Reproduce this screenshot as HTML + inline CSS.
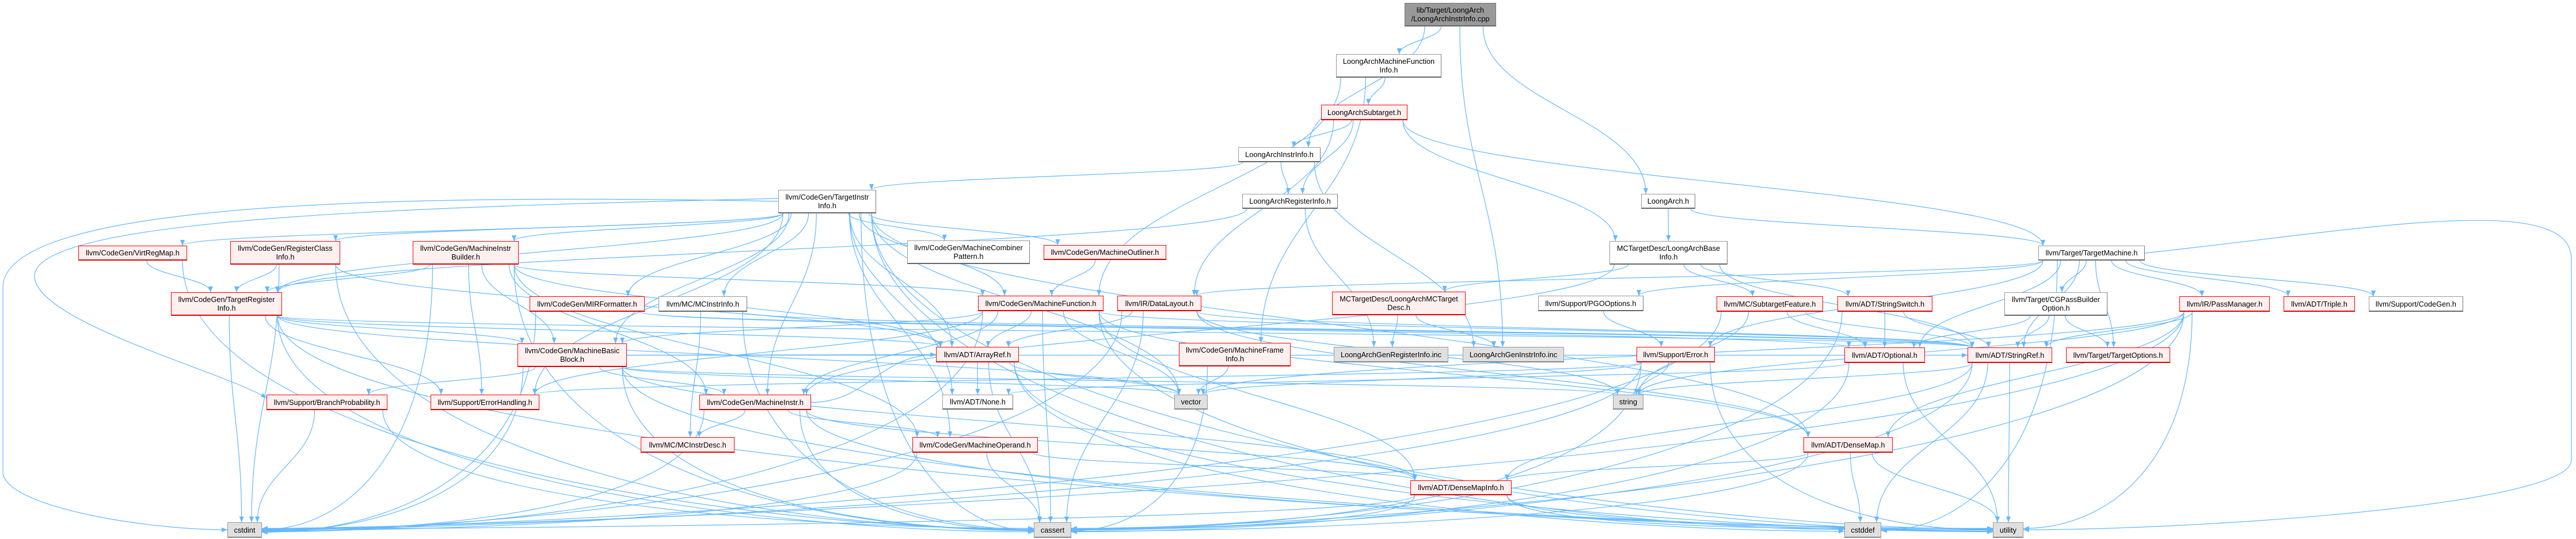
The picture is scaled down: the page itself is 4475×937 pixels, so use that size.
<!DOCTYPE html>
<html><head><meta charset="utf-8">
<style>
html,body{margin:0;padding:0;background:#fff;}
#c{position:relative;width:4475px;height:937px;overflow:hidden;background:#fff;}
svg{position:absolute;left:0;top:0;}
.n{position:absolute;box-sizing:border-box;display:flex;align-items:center;justify-content:center;text-align:center;font-family:"Liberation Sans",sans-serif;font-size:12.8px;line-height:15px;color:#000;white-space:nowrap;}
.r{background:#fff0f0;border:1.6px solid #ff0000;border-bottom:2px solid #e00000;}
.w{background:#fff;border:1.4px solid #999;border-bottom:2.4px solid #666;border-right:1.8px solid #777;}
.g{background:#e0e0e0;border:1.4px solid #999;border-bottom:2px solid #888;}
.k{background:#999;border:1.4px solid #777;border-bottom:2.4px solid #666;}
</style></head><body>
<div id="c">
<svg id="s" width="4475" height="937" viewBox="0 0 4475 937">
<defs><marker id="a" markerUnits="userSpaceOnUse" markerWidth="11" markerHeight="8" refX="10" refY="4" orient="auto"><path d="M0,0 L10,4 L0,8 z" fill="#63b8ff"/></marker></defs>
<g fill="none" stroke="#63b8ff" stroke-width="1.2">
<path d="M1352,350 C600,335 5,360 5,500 L5,820 C5,880 250,921 395,921" marker-end="url(#a)"/>
<path d="M1352,345 C700,360 60,380 60,480 C60,560 400,650 463,692" marker-end="url(#a)"/>
<path d="M3726,440 C4100,400 4467,330 4467,450 L4467,800 C4467,880 3800,921 3515,921" marker-end="url(#a)"/>
</g>
<g id="e" fill="none" stroke="#63b8ff" stroke-width="1.2"></g>
</svg>

<div class="n k" style="left:2440px;top:5px;width:159px;height:41px">lib/Target/LoongArch<br>/LoongArchInstrInfo.cpp</div>
<div class="n w" style="left:2321px;top:94px;width:183px;height:41px">LoongArchMachineFunction<br>Info.h</div>
<div class="n r" style="left:2295px;top:182px;width:150px;height:27px">LoongArchSubtarget.h</div>
<div class="n w" style="left:2151px;top:256px;width:143px;height:26px">LoongArchInstrInfo.h</div>
<div class="n w" style="left:2158px;top:337px;width:166px;height:26px">LoongArchRegisterInfo.h</div>
<div class="n w" style="left:2851px;top:337px;width:94px;height:26px">LoongArch.h</div>
<div class="n w" style="left:1352px;top:330px;width:170px;height:41px">llvm/CodeGen/TargetInstr<br>Info.h</div>
<div class="n w" style="left:1576px;top:418px;width:213px;height:41px">llvm/CodeGen/MachineCombiner<br>Pattern.h</div>
<div class="n r" style="left:1813px;top:426px;width:213px;height:26px">llvm/CodeGen/MachineOutliner.h</div>
<div class="n w" style="left:2796px;top:419px;width:205px;height:41px">MCTargetDesc/LoongArchBase<br>Info.h</div>
<div class="n w" style="left:3541px;top:427px;width:185px;height:26px">llvm/Target/TargetMachine.h</div>
<div class="n r" style="left:1699px;top:514px;width:218px;height:27px">llvm/CodeGen/MachineFunction.h</div>
<div class="n r" style="left:1941px;top:514px;width:146px;height:27px">llvm/IR/DataLayout.h</div>
<div class="n r" style="left:2314px;top:507px;width:232px;height:41px">MCTargetDesc/LoongArchMCTarget<br>Desc.h</div>
<div class="n w" style="left:2672px;top:514px;width:183px;height:27px">llvm/Support/PGOOptions.h</div>
<div class="n r" style="left:1626px;top:603px;width:144px;height:27px">llvm/ADT/ArrayRef.h</div>
<div class="n r" style="left:2048px;top:596px;width:194px;height:41px">llvm/CodeGen/MachineFrame<br>Info.h</div>
<div class="n g" style="left:2317px;top:603px;width:199px;height:27px">LoongArchGenRegisterInfo.inc</div>
<div class="n g" style="left:2541px;top:603px;width:176px;height:27px">LoongArchGenInstrInfo.inc</div>
<div class="n r" style="left:2843px;top:603px;width:136px;height:27px">llvm/Support/Error.h</div>
<div class="n r" style="left:2982px;top:515px;width:185px;height:27px">llvm/MC/SubtargetFeature.h</div>
<div class="n r" style="left:3192px;top:515px;width:165px;height:27px">llvm/ADT/StringSwitch.h</div>
<div class="n w" style="left:3482px;top:508px;width:179px;height:41px">llvm/Target/CGPassBuilder<br>Option.h</div>
<div class="n r" style="left:3786px;top:515px;width:157px;height:27px">llvm/IR/PassManager.h</div>
<div class="n r" style="left:3967px;top:515px;width:124px;height:27px">llvm/ADT/Triple.h</div>
<div class="n w" style="left:4115px;top:515px;width:164px;height:27px">llvm/Support/CodeGen.h</div>
<div class="n r" style="left:3204px;top:604px;width:140px;height:27px">llvm/ADT/Optional.h</div>
<div class="n r" style="left:3418px;top:604px;width:147px;height:27px">llvm/ADT/StringRef.h</div>
<div class="n r" style="left:3589px;top:604px;width:181px;height:27px">llvm/Target/TargetOptions.h</div>
<div class="n r" style="left:3133px;top:760px;width:155px;height:27px">llvm/ADT/DenseMap.h</div>
<div class="n g" style="left:3204px;top:908px;width:64px;height:27px">cstddef</div>
<div class="n g" style="left:3462px;top:908px;width:53px;height:27px">utility</div>
<div class="n w" style="left:1637px;top:686px;width:123px;height:26px">llvm/ADT/None.h</div>
<div class="n g" style="left:2040px;top:686px;width:58px;height:26px">vector</div>
<div class="n g" style="left:2802px;top:686px;width:53px;height:26px">string</div>
<div class="n r" style="left:1585px;top:760px;width:218px;height:27px">llvm/CodeGen/MachineOperand.h</div>
<div class="n r" style="left:2450px;top:835px;width:176px;height:26px">llvm/ADT/DenseMapInfo.h</div>
<div class="n g" style="left:1796px;top:908px;width:65px;height:27px">cassert</div>
<div class="n r" style="left:136px;top:427px;width:189px;height:26px">llvm/CodeGen/VirtRegMap.h</div>
<div class="n r" style="left:400px;top:419px;width:191px;height:41px">llvm/CodeGen/RegisterClass<br>Info.h</div>
<div class="n r" style="left:717px;top:419px;width:184px;height:41px">llvm/CodeGen/MachineInstr<br>Builder.h</div>
<div class="n r" style="left:297px;top:508px;width:193px;height:41px">llvm/CodeGen/TargetRegister<br>Info.h</div>
<div class="n r" style="left:920px;top:515px;width:200px;height:27px">llvm/CodeGen/MIRFormatter.h</div>
<div class="n w" style="left:1144px;top:515px;width:154px;height:27px">llvm/MC/MCInstrInfo.h</div>
<div class="n r" style="left:899px;top:597px;width:190px;height:41px">llvm/CodeGen/MachineBasic<br>Block.h</div>
<div class="n r" style="left:463px;top:686px;width:210px;height:27px">llvm/Support/BranchProbability.h</div>
<div class="n r" style="left:748px;top:686px;width:189px;height:27px">llvm/Support/ErrorHandling.h</div>
<div class="n r" style="left:1215px;top:686px;width:194px;height:27px">llvm/CodeGen/MachineInstr.h</div>
<div class="n r" style="left:1113px;top:760px;width:163px;height:27px">llvm/MC/MCInstrDesc.h</div>
<div class="n g" style="left:395px;top:908px;width:60px;height:27px">cstdint</div>
</div>
<script>
var N={cpp:[2440,5,2599,46],lamfi:[2321,94,2504,135],sub:[2295,182,2445,209],laii:[2151,256,2294,282],lari:[2158,337,2324,363],la:[2851,337,2945,363],tii:[1352,330,1522,371],mcp:[1576,418,1789,459],mol:[1813,426,2026,452],base:[2796,419,3001,460],tm:[3541,427,3726,453],mf:[1699,514,1917,541],dl:[1941,514,2087,541],mctd:[2314,507,2546,548],pgo:[2672,514,2855,541],ar:[1626,603,1770,630],mfi:[2048,596,2242,637],gri:[2317,603,2516,630],gii:[2541,603,2717,630],err:[2843,603,2979,630],stf:[2982,515,3167,542],ssw:[3192,515,3357,542],cgp:[3482,508,3661,549],pm:[3786,515,3943,542],tri:[3967,515,4091,542],cg:[4115,515,4279,542],opt:[3204,604,3344,631],sr:[3418,604,3565,631],to:[3589,604,3770,631],dm:[3133,760,3288,787],cstddef:[3204,908,3268,935],utility:[3462,908,3515,935],none:[1637,686,1760,712],vector:[2040,686,2098,712],string:[2802,686,2855,712],mo:[1585,760,1803,787],dmi:[2450,835,2626,861],cassert:[1796,908,1861,935],vrm:[136,427,325,453],rci:[400,419,591,460],mib:[717,419,901,460],trg:[297,508,490,549],mir:[920,515,1120,542],mcii:[1144,515,1298,542],mbb:[899,597,1089,638],bp:[463,686,673,713],eh:[748,686,937,713],mi:[1215,686,1409,713],mcid:[1113,760,1276,787],cstdint:[395,908,455,935]};
var E="cpp>lamfi cpp>laii cpp>la cpp>gii lamfi>sub lamfi>mf lamfi>mfi sub>laii sub>lari sub>dl sub>base sub>tm laii>tii laii>lari laii>gii lari>gri lari>trg la>base la>tm base>mctd base>stf base>ssw base>sr base>mi mctd>gri mctd>gii tm>dl tm>pgo tm>err tm>cgp tm>pm tm>tri tm>cg tm>opt tm>sr tm>to tm>cstddef cgp>opt cgp>sr cgp>to pm>sr pm>dm pm>utility pm>cassert pm>vector pm>string pm>cstdint stf>sr stf>string stf>cstdint stf>opt ssw>opt ssw>sr ssw>cassert opt>utility opt>cassert opt>none sr>cstddef sr>utility sr>string sr>cassert sr>dmi dm>dmi dm>cstddef dm>utility dm>cassert dmi>cstdint dmi>cassert dmi>utility dmi>cstddef err>string err>vector err>cassert err>cstdint err>utility err>eh pgo>err mf>ar mf>mbb mf>mi mf>cassert mf>vector mf>utility mf>dm mf>eh mf>sr mf>cstdint mf>dmi dl>ar dl>sr dl>cassert dl>cstdint dl>string dl>dm ar>none ar>vector ar>cassert ar>utility ar>cstddef mfi>vector mfi>cassert tii>mcp tii>mol tii>mf tii>ar tii>none tii>mo tii>dm tii>utility tii>cassert tii>mbb tii>mi tii>mcii tii>mir tii>eh tii>vrm tii>rci tii>mib tii>trg tii>vector tii>cstddef mol>mf vrm>trg vrm>cassert rci>trg rci>cstdint rci>ar rci>cassert mib>trg mib>mbb mib>mi mib>mo mib>mf mib>eh mib>cstdint mib>cassert mib>ar trg>mbb trg>ar trg>eh trg>cstdint trg>cassert trg>sr trg>utility trg>vector mir>cstdint mir>opt mir>sr mcii>mcid mcii>sr mcii>cassert mbb>bp mbb>mi mbb>cstdint mbb>cassert mbb>ar mbb>sr mbb>dmi mbb>string mbb>vector mbb>utility mi>mcid mi>mo mi>cstdint mi>cassert mi>utility mi>dmi mi>ar mo>cassert mo>dmi mo>cstdint bp>cassert bp>cstdint".split(" ");
function cl(v,a,b){return Math.max(a,Math.min(b,v));}
var g=document.getElementById("e"),out="";
E.forEach(function(p){var q=p.split(">"),S=N[q[0]],T=N[q[1]];if(!S||!T)return;
var scx=(S[0]+S[2])/2,scy=(S[1]+S[3])/2,tcx=(T[0]+T[2])/2,tcy=(T[1]+T[3])/2,d;
if(T[1]>S[3]+12){var sx=cl(scx+(tcx-scx)*0.15,S[0]+8,S[2]-8),sy=S[3];
 if(T[1]>=900&&Math.abs(tcx-sx)>250){var tx=tcx>sx?T[0]:T[2],ty=tcy+((sx%7)-3),h=Math.min(Math.abs(tx-sx)*0.5,500)*(sx<tx?-1:1);
  d="M"+sx+","+sy+" C"+sx+","+(sy+(ty-sy)*0.7)+" "+(tx+h)+","+ty+" "+tx+","+ty;}
 else{var tx=cl(tcx+(sx-tcx)*0.2,T[0]+8,T[2]-8),ty=T[1],dy=ty-sy;
  d="M"+sx+","+sy+" C"+sx+","+(sy+dy*0.45)+" "+tx+","+(ty-dy*0.45)+" "+tx+","+ty;}}
else{var sx,tx;if(tcx<scx){sx=S[0];tx=T[2];}else{sx=S[2];tx=T[0];}var h=(tx-sx)*0.45;
 d="M"+sx+","+scy+" C"+(sx+h)+","+scy+" "+(tx-h)+","+tcy+" "+tx+","+tcy;}
out+='<path d="'+d+'" marker-end="url(#a)"/>';});
g.innerHTML=out;
</script>
</body></html>
